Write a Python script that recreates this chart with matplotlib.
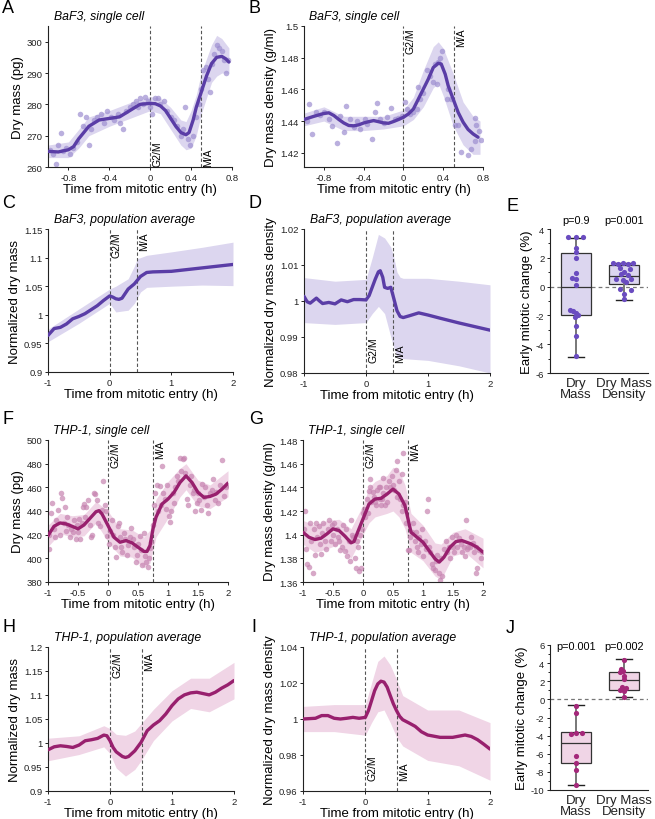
import matplotlib
matplotlib.use("Agg")
import matplotlib.pyplot as plt
from matplotlib.ticker import FuncFormatter, MultipleLocator

plt.rcParams["font.family"] = ["Liberation Sans", "DejaVu Sans"]

# ---- colours
BAF_LINE = "#5a3da6"
BAF_DOT = "#9d8ed0"
BAF_BAND = "#dcd6ef"
BAF_BOXDOT = "#6a4cc0"
THP_LINE = "#98206e"
THP_DOT = "#c683b0"
THP_BAND = "#f0d5e6"
THP_BOXDOT = "#a4287a"

# ---- A: BaF3 single cell, dry mass
a_t = [-1.0, -0.9, -0.8, -0.75, -0.7, -0.6, -0.5, -0.4, -0.3, -0.2, -0.1, 0.0, 0.05, 0.1, 0.15,
       0.2, 0.25, 0.3, 0.35, 0.38, 0.42, 0.45, 0.5, 0.55, 0.6, 0.65, 0.7, 0.74, 0.77]
a_mean = [265, 264.8, 265.5, 266.5, 269, 273, 275, 275.5, 276, 278, 280, 280.3, 280.2, 279.5, 278,
          275.5, 273, 271, 270.3, 271, 275, 279, 284, 289, 293, 295, 295.3, 294.5, 293.5]
a_bt = [-1, -0.8, -0.7, -0.6, -0.4, -0.2, 0, 0.1, 0.2, 0.3, 0.35, 0.4, 0.45, 0.5, 0.6, 0.65, 0.7, 0.77]
a_hi = [267, 268, 272, 276, 278, 280.5, 282.5, 282, 279, 275, 274.5, 278, 283, 290, 299, 302, 301, 298]
a_lo = [263, 263, 266, 270, 273, 275.5, 278, 277, 272, 267, 265.5, 266, 270, 277, 287, 289, 290, 290]
a_px = [-0.98, -0.95, -0.92, -0.9, -0.87, -0.85, -0.82, -0.78, -0.76, -0.72, -0.69, -0.66, -0.63, -0.6,
        -0.58, -0.55, -0.52, -0.48, -0.45, -0.42, -0.38, -0.35, -0.32, -0.3, -0.27, -0.24, -0.2, -0.17,
        -0.14, -0.12, -0.1, -0.07, -0.05, -0.02, 0.0, 0.02, 0.05, 0.08, 0.1, 0.13, 0.16, 0.2, 0.23, 0.26,
        0.3, 0.32, 0.34, 0.37, 0.39, 0.42, 0.45, 0.48, 0.5, 0.52, 0.55, 0.57, 0.58, 0.6, 0.62, 0.65,
        0.67, 0.7, 0.72, 0.74, 0.76]
a_py = [265.5, 264, 261, 267, 271, 265, 266, 264, 266, 268, 277, 273, 276, 267,
        272, 275, 276, 277, 274, 278, 276, 275, 277, 274, 272, 278, 279, 280,
        281, 279, 282, 280, 282.5, 281, 279, 277, 282, 282, 280, 281, 278, 276, 275, 273,
        270, 272, 279, 269, 267, 270, 276, 280, 285, 291, 292, 288, 284, 293, 296, 299,
        298, 297, 294, 290, 294]

# ---- B: BaF3 single cell, density
b_t = [-1, -0.9, -0.8, -0.75, -0.7, -0.65, -0.6, -0.55, -0.5, -0.45, -0.4, -0.35, -0.3, -0.25,
       -0.2, -0.15, -0.1, -0.05, 0, 0.05, 0.1, 0.15, 0.2, 0.25, 0.3, 0.35, 0.38, 0.42, 0.45, 0.5,
       0.55, 0.6, 0.65, 0.7, 0.75]
b_mean = [1.441, 1.443, 1.4448, 1.4452, 1.4435, 1.441, 1.4388, 1.4372, 1.4370, 1.4376, 1.4388,
          1.4396, 1.4403, 1.4396, 1.4388, 1.4386, 1.4397, 1.4410, 1.4424, 1.4445, 1.4476, 1.4539,
          1.4602, 1.4665, 1.4738, 1.4765, 1.4760, 1.4696, 1.4623, 1.4539, 1.4455, 1.4393, 1.4347,
          1.4319, 1.4298]
b_bt = [-1, -0.8, -0.6, -0.4, -0.2, 0, 0.1, 0.2, 0.3, 0.35, 0.4, 0.5, 0.6, 0.7, 0.77]
b_hi = [1.445, 1.449, 1.443, 1.443, 1.443, 1.447, 1.455, 1.472, 1.487, 1.490, 1.486, 1.470, 1.452, 1.443, 1.440]
b_lo = [1.437, 1.440, 1.434, 1.434, 1.435, 1.437, 1.441, 1.449, 1.461, 1.464, 1.456, 1.437, 1.425, 1.419, 1.419]
b_px = [-0.97, -0.95, -0.92, -0.88, -0.84, -0.8, -0.75, -0.72, -0.667, -0.633, -0.6, -0.573, -0.533,
        -0.5, -0.467, -0.433, -0.383, -0.367, -0.317, -0.283, -0.267, -0.233, -0.2, -0.167, -0.127,
        -0.083, -0.05, -0.017, 0.017, 0.033, 0.067, 0.1, 0.133, 0.15, 0.167, 0.2, 0.24, 0.267, 0.3,
        0.317, 0.333, 0.35, 0.367, 0.383, 0.433, 0.45, 0.483, 0.517, 0.55, 0.583, 0.65, 0.683, 0.717,
        0.717, 0.733, 0.76, 0.783]
b_py = [1.440, 1.451, 1.432, 1.446, 1.444, 1.446, 1.441, 1.437, 1.4263, 1.4435, 1.433, 1.4497, 1.4414,
        1.436, 1.4403, 1.435, 1.441, 1.438, 1.4284, 1.4455, 1.4512, 1.441, 1.4388, 1.4424, 1.4483,
        1.441, 1.4418, 1.443, 1.4518, 1.4476, 1.4445, 1.4455, 1.4476, 1.4613, 1.4539, 1.458, 1.4721,
        1.4686, 1.4648, 1.4763, 1.4633, 1.4774, 1.4795, 1.4843, 1.4539, 1.460, 1.4539, 1.4372, 1.4372,
        1.4204, 1.4188, 1.4225, 1.4277, 1.442, 1.4372, 1.434, 1.428]

# ---- C: BaF3 population, normalized dry mass
c_t = [-1, -0.9, -0.8, -0.7, -0.6, -0.5, -0.4, -0.3, -0.2, -0.1, 0, 0.05, 0.1, 0.15, 0.2, 0.3,
       0.4, 0.5, 0.6, 0.7, 1.0, 1.5, 2.0]
c_mean = [0.964, 0.976, 0.978, 0.984, 0.993, 0.997, 1.002, 1.009, 1.016, 1.025, 1.033, 1.031, 1.028,
          1.027, 1.029, 1.045, 1.054, 1.067, 1.074, 1.075, 1.076, 1.082, 1.088]
c_bt = [-1, -0.5, 0, 0.1, 0.3, 0.4, 0.45, 0.5, 0.6, 1.0, 1.5, 2.0]
c_hi = [0.975, 1.010, 1.045, 1.050, 1.063, 1.085, 1.098, 1.100, 1.104, 1.110, 1.118, 1.127]
c_lo = [0.953, 0.985, 1.020, 1.005, 1.008, 1.020, 1.030, 1.040, 1.048, 1.050, 1.052, 1.051]

# ---- D: BaF3 population, normalized density
d_t = [-1, -0.95, -0.9, -0.8, -0.75, -0.7, -0.6, -0.5, -0.4, -0.3, -0.2, -0.1, 0, 0.05, 0.1, 0.15,
       0.2, 0.23, 0.27, 0.3, 0.35, 0.4, 0.45, 0.5, 0.55, 0.6, 0.7, 0.85, 1.0, 1.2, 1.5, 1.8, 2.0]
d_mean = [1.0013, 0.9998, 0.9994, 1.0008, 1.0, 0.9993, 0.9996, 0.9992, 1.0003, 0.9998, 1.0004,
          1.0004, 1.0003, 1.0015, 1.0038, 1.0061, 1.0081, 1.0084, 1.0066, 1.0038, 1.0035, 1.0038,
          1.0006, 0.9973, 0.9957, 0.9954, 0.9959, 0.9967, 0.9961, 0.9952, 0.9939, 0.9927, 0.9919]
d_bt = [-1, -0.5, 0, 0.1, 0.2, 0.3, 0.4, 0.45, 0.5, 0.55, 0.6, 1.0, 1.5, 2.0]
d_hi = [1.0065, 1.0055, 1.0060, 1.0120, 1.0185, 1.0175, 1.0150, 1.0120, 1.0080, 1.0066, 1.0063,
        1.0063, 1.0055, 1.0045]
d_lo = [0.9940, 0.9935, 0.9940, 0.9965, 0.9985, 0.9965, 0.9900, 0.9870, 0.9845, 0.9842, 0.9840,
        0.9835, 0.9820, 0.9800]

# ---- E: BaF3 early mitotic change
e_labels = ["Dry\nMass", "Dry Mass\nDensity"]
e_dm_dx = [-0.16, 0, 0.15, 0, 0, 0, 0, -0.08, 0.01, 0, -0.13, -0.06, 0, 0.05, -0.02, 0.01, 0, 0]
e_dm_y = [3.42, 3.42, 3.42, 2.66, 2.38, 1.96, 0.92, 0.6, 0.53, 0.11, -1.6, -1.67, -1.83, -1.97,
          -2.08, -2.76, -3.45, -4.84]
e_dd_dx = [-0.23, -0.13, -0.02, 0.08, 0.19, -0.09, 0.12, 0.01, -0.16, -0.02, 0.15, 0.05, -0.09,
           0.15, 0.01, 0.0, -0.06, 0.08]
e_dd_y = [1.65, 1.6, 1.65, 1.6, 1.65, 1.27, 1.22, 1.03, 0.56, 0.44, 0.51, 0.3, -0.17, -0.24,
          -0.5, -0.86, 0.9, 0.8]
e_box = [dict(q1=-2.0, q3=2.35, med=-0.05, whislo=-4.9, whishi=3.4),
         dict(q1=0.2, q3=1.5, med=0.75, whislo=-0.9, whishi=1.65)]
e_p = ["p=0.9", "p=0.001"]

# ---- F: THP-1 single cell, dry mass
f_t = [-1, -0.9, -0.8, -0.7, -0.6, -0.5, -0.4, -0.3, -0.2, -0.15, -0.1, 0, 0.1, 0.2, 0.3, 0.4, 0.5,
       0.6, 0.65, 0.7, 0.75, 0.8, 0.9, 1.0, 1.1, 1.2, 1.3, 1.4, 1.5, 1.6, 1.7, 1.8, 1.9, 2.0]
f_mean = [419.2, 427.1, 429.9, 429.1, 427.1, 424.9, 428.2, 433.8, 439.4, 440.3, 437.5, 427.7, 417.8,
          413.6, 415.0, 413.1, 409.4, 405.8, 405.8, 410.8, 424.9, 434.7, 445.9, 450.1, 455.7, 464.1,
          469.7, 464.1, 455.7, 451.5, 452.3, 454.3, 458.5, 463.6]
f_bt = [-1, -0.8, -0.6, -0.4, -0.2, 0, 0.2, 0.4, 0.6, 0.7, 0.8, 1.0, 1.2, 1.3, 1.5, 1.7, 2.0]
f_hi = [428, 438, 436, 437, 448, 440, 425, 424, 418, 424, 450, 465, 476, 480, 466, 462, 474]
f_lo = [410, 421, 418, 419, 430, 414, 402, 401, 392, 396, 418, 434, 452, 458, 444, 442, 452]
f_px = [-0.98, -0.98, -0.95, -0.93, -0.9, -0.88, -0.86, -0.83, -0.8, -0.78, -0.76, -0.74, -0.72,
        -0.7, -0.68, -0.66, -0.63, -0.61, -0.58, -0.56, -0.54, -0.52, -0.5, -0.48, -0.46, -0.44,
        -0.42, -0.4, -0.38, -0.36, -0.33, -0.3, -0.28, -0.26, -0.23, -0.21, -0.18, -0.16, -0.13,
        -0.1, -0.08, -0.05, -0.03, -0.01, 0.01, 0.03, 0.06, 0.09, 0.12, 0.14, 0.16, 0.18, 0.2, 0.22,
        0.24, 0.27, 0.29, 0.31, 0.33, 0.36, 0.39, 0.41, 0.43, 0.46, 0.48, 0.5, 0.53, 0.55, 0.57, 0.6,
        0.62, 0.64, 0.66, 0.68, 0.7, 0.72, 0.75, 0.77, 0.79, 0.81, 0.83, 0.86, 0.88, 0.9, 0.92, 0.95,
        0.97, 0.99, 1.01, 1.03, 1.05, 1.08, 1.1, 1.12, 1.15, 1.17, 1.2, 1.22, 1.25, 1.27, 1.29, 1.31,
        1.34, 1.36, 1.39, 1.41, 1.43, 1.45, 1.48, 1.5, 1.52, 1.55, 1.57, 1.6, 1.62, 1.65, 1.67, 1.7,
        1.73, 1.75, 1.78, 1.8, 1.83, 1.86, 1.9, 1.93, 1.96, 1.98]
f_py = [408, 420, 438, 447, 425, 418, 432, 441, 420, 455, 451, 430, 443,
        423, 435, 428, 418, 425, 422, 432, 416, 428, 422, 433, 416, 430,
        443, 446, 435, 443, 449, 428, 418, 420, 455, 454, 449, 430, 427,
        441, 465, 445, 440, 419, 412, 423, 432, 420, 410, 401, 427, 430, 418, 410,
        405, 421, 416, 403, 411, 418, 426, 416, 410, 397, 403, 412, 419, 407, 394, 421,
        402, 397, 393, 400, 409, 414, 428, 445, 455, 462, 440, 461, 445, 478, 455, 450,
        442, 462, 436, 431, 440, 455, 447, 460, 470, 465, 485, 474, 484, 485, 472, 450,
        445, 462, 470, 455, 458, 440, 447, 455, 449, 441, 463, 452, 460, 445, 438, 455,
        458, 467, 449, 456, 447, 462, 483, 453, 460, 462]

# ---- G: THP-1 single cell, density
g_t = [-1, -0.9, -0.8, -0.7, -0.6, -0.5, -0.4, -0.3, -0.2, -0.15, -0.1, 0, 0.1, 0.2, 0.3, 0.4, 0.5,
       0.6, 0.7, 0.75, 0.8, 0.9, 1.0, 1.1, 1.2, 1.27, 1.35, 1.45, 1.55, 1.65, 1.8, 1.9, 2.0]
g_mean = [1.402, 1.3978, 1.3959, 1.397, 1.4007, 1.4049, 1.4035, 1.3987, 1.3931, 1.3942, 1.4007,
          1.4133, 1.4259, 1.4301, 1.4307, 1.4343, 1.4385, 1.4343, 1.4245, 1.4133, 1.4021, 1.3978,
          1.3936, 1.3866, 1.3796, 1.3768, 1.381, 1.3894, 1.3942, 1.395, 1.3922, 1.3894, 1.3852]
g_bt = [-1, -0.8, -0.6, -0.4, -0.2, 0, 0.1, 0.2, 0.4, 0.5, 0.6, 0.7, 0.8, 1.0, 1.2, 1.3, 1.5, 1.7, 2.0]
g_hi = [1.412, 1.408, 1.412, 1.413, 1.405, 1.425, 1.440, 1.445, 1.450, 1.457, 1.454, 1.442, 1.418,
        1.408, 1.393, 1.392, 1.402, 1.405, 1.397]
g_lo = [1.392, 1.385, 1.388, 1.392, 1.380, 1.400, 1.410, 1.415, 1.418, 1.420, 1.415, 1.405, 1.385,
        1.378, 1.365, 1.362, 1.382, 1.385, 1.372]
g_px = [-0.98, -0.97, -0.95, -0.93, -0.9, -0.88, -0.86, -0.84, -0.82, -0.8, -0.78, -0.76, -0.74,
        -0.72, -0.7, -0.68, -0.66, -0.63, -0.61, -0.58, -0.56, -0.54, -0.52, -0.5, -0.48, -0.46,
        -0.44, -0.42, -0.4, -0.38, -0.35, -0.33, -0.3, -0.28, -0.26, -0.24, -0.22, -0.2, -0.18,
        -0.16, -0.14, -0.12, -0.1, -0.08, -0.06, -0.05, -0.03, -0.01, 0.0, 0.02, 0.04, 0.06, 0.08,
        0.1, 0.12, 0.12, 0.14, 0.16, 0.18, 0.2, 0.22, 0.24, 0.26, 0.28, 0.29, 0.3, 0.32, 0.34, 0.34,
        0.36, 0.38, 0.4, 0.43, 0.45, 0.48, 0.5, 0.52, 0.55, 0.56, 0.57, 0.6, 0.62, 0.65, 0.65, 0.66,
        0.67, 0.7, 0.72, 0.75, 0.77, 0.79, 0.81, 0.83, 0.86, 0.88, 0.9, 0.92, 0.94, 0.96, 0.98, 1.0,
        1.03, 1.05, 1.07, 1.09, 1.1, 1.12, 1.15, 1.17, 1.2, 1.22, 1.24, 1.26, 1.28, 1.3, 1.32, 1.35,
        1.38, 1.4, 1.43, 1.45, 1.48, 1.5, 1.52, 1.55, 1.57, 1.6, 1.63, 1.65, 1.68, 1.7, 1.72, 1.73,
        1.75, 1.78, 1.8, 1.83, 1.85, 1.88, 1.89, 1.9, 1.93, 1.96, 1.98]
g_py = [1.405, 1.42, 1.388, 1.375, 1.373, 1.41, 1.395, 1.368, 1.405, 1.383, 1.41, 1.398, 1.407,
        1.392, 1.384, 1.401, 1.41, 1.395, 1.388, 1.405, 1.412, 1.395, 1.408, 1.4, 1.41, 1.392,
        1.405, 1.398, 1.395, 1.387, 1.39, 1.408, 1.386, 1.405, 1.382, 1.395, 1.378, 1.412, 1.4,
        1.398, 1.38, 1.372, 1.395, 1.39, 1.369, 1.4, 1.372, 1.405, 1.418, 1.422, 1.415, 1.43, 1.418,
        1.437, 1.44, 1.447, 1.428, 1.436, 1.432, 1.428, 1.425, 1.438, 1.44, 1.43, 1.44, 1.425, 1.43,
        1.435, 1.448, 1.425, 1.44, 1.428, 1.445, 1.44, 1.45, 1.442, 1.438, 1.455, 1.462, 1.432, 1.445,
        1.43, 1.42, 1.451, 1.469, 1.425, 1.428, 1.41, 1.387, 1.387, 1.398, 1.402, 1.41, 1.395, 1.402,
        1.39, 1.385, 1.398, 1.392, 1.405, 1.382, 1.395, 1.388, 1.42, 1.43, 1.39, 1.385, 1.375, 1.372,
        1.37, 1.378, 1.383, 1.368, 1.362, 1.38, 1.365, 1.388, 1.395, 1.385, 1.39, 1.38, 1.398, 1.39,
        1.385, 1.4, 1.39, 1.397, 1.392, 1.385, 1.39, 1.382, 1.412, 1.388, 1.39, 1.39, 1.398, 1.393,
        1.385, 1.39, 1.368, 1.372, 1.387, 1.38, 1.385]

# ---- H: THP-1 population, normalized dry mass
h_t = [-1, -0.9, -0.8, -0.7, -0.6, -0.5, -0.4, -0.3, -0.2, -0.1, -0.05, 0, 0.05, 0.1, 0.2, 0.25,
       0.3, 0.4, 0.5, 0.6, 0.7, 0.8, 0.9, 1.0, 1.1, 1.2, 1.3, 1.4, 1.5, 1.6, 1.7, 1.8, 1.9, 2.0]
h_mean = [0.9858, 0.9921, 0.9942, 0.9928, 0.9907, 0.9956, 1.0047, 1.0068, 1.0096, 1.0165, 1.0151,
          1.0047, 0.9907, 0.9816, 0.9719, 0.9698, 0.9719, 0.9837, 1.0012, 1.0256, 1.0374, 1.0465,
          1.0605, 1.0779, 1.0919, 1.1002, 1.1044, 1.1058, 1.1030, 1.1002, 1.1058, 1.1142, 1.1212,
          1.1302]
h_bt = [-1, -0.5, -0.1, 0, 0.1, 0.25, 0.4, 0.5, 0.7, 1.0, 1.3, 1.6, 2.0]
h_hi = [1.010, 1.015, 1.036, 1.030, 1.018, 1.016, 1.025, 1.040, 1.070, 1.109, 1.135, 1.135, 1.168]
h_lo = [0.963, 0.976, 0.992, 0.978, 0.948, 0.931, 0.945, 0.963, 1.005, 1.046, 1.072, 1.065, 1.092]

# ---- I: THP-1 population, normalized density
i_t = [-1, -0.8, -0.7, -0.6, -0.5, -0.4, -0.3, -0.2, -0.1, 0, 0.05, 0.1, 0.15, 0.2, 0.25, 0.3, 0.35,
       0.4, 0.45, 0.5, 0.55, 0.6, 0.7, 0.8, 0.9, 1.0, 1.2, 1.4, 1.6, 1.7, 1.8, 1.9, 2.0]
i_mean = [1.0, 1.0004, 1.0019, 1.0019, 1.0004, 1.0, 1.0004, 1.0009, 1.0004, 1.0009, 1.0047, 1.0102,
          1.0158, 1.0195, 1.021, 1.0205, 1.0177, 1.013, 1.0084, 1.0047, 1.0015, 0.9996, 0.9978,
          0.9959, 0.9929, 0.9911, 0.9898, 0.9898, 0.9911, 0.9903, 0.9885, 0.986, 0.9833]
i_bt = [-1, -0.5, 0, 0.1, 0.2, 0.3, 0.4, 0.5, 0.6, 1.0, 1.5, 2.0]
i_hi = [1.007, 1.008, 1.008, 1.020, 1.032, 1.035, 1.030, 1.022, 1.013, 1.005, 1.005, 0.998]
i_lo = [0.993, 0.993, 0.991, 0.998, 1.004, 1.005, 0.998, 0.990, 0.985, 0.977, 0.974, 0.966]

# ---- J: THP-1 early mitotic change
j_dm_dx = [0, 0, -0.11, 0.01, 0.12, 0, 0, 0, 0]
j_dm_y = [-0.7, -1.52, -3.84, -3.75, -3.66, -6.24, -6.98, -7.79, -9.48]
j_dd_dx = [0, -0.06, -0.02, -0.08, 0.01, 0.0, -0.05, 0.04, -0.09, 0.0, 0.0]
j_dd_y = [4.38, 3.35, 3.16, 2.98, 2.53, 2.24, 1.32, 1.24, 1.02, 0.95, 0.29]
j_box = [dict(q1=-7.05, q3=-3.6, med=-4.84, whislo=-9.48, whishi=-0.65),
         dict(q1=1.02, q3=3.05, med=2.15, whislo=0.3, whishi=4.45)]
j_p = ["p=0.001", "p=0.002"]

W, H = 655, 820
fig = plt.figure(figsize=(W / 100, H / 100), dpi=100)
fmt = FuncFormatter(lambda v, p: f"{v:g}")


def make_ax(l, r, t, b):
    ax = fig.add_axes([l / W, 1 - b / H, (r - l) / W, (b - t) / H])
    for s in ("top", "right"):
        ax.spines[s].set_visible(False)
    for s in ("left", "bottom"):
        ax.spines[s].set_linewidth(0.8)
        ax.spines[s].set_color("#222222")
    ax.tick_params(labelsize=6.8, length=2.5, width=0.7, pad=1.5, colors="#222222")
    ax.xaxis.set_major_formatter(fmt)
    ax.yaxis.set_major_formatter(fmt)
    return ax


def phase(ax, x, text, top=True, off=2):
    ax.axvline(x, color="#555555", lw=0.8, ls=(0, (3, 2)), zorder=1)
    if top:
        ax.annotate(text, xy=(x, 1), xycoords=("data", "axes fraction"), xytext=(1.5, -off),
                    textcoords="offset points", rotation=90, ha="left", va="top", fontsize=7.5)
    else:
        ax.annotate(text, xy=(x, 0), xycoords=("data", "axes fraction"), xytext=(1.5, off),
                    textcoords="offset points", rotation=90, ha="left", va="bottom", fontsize=7.5)


def trace_panel(ax, t, mean, bt, lo, hi, band, line, title, ylabel, xlim, ylim, xticks, yticks,
                px=None, py=None, dot=None):
    ax.fill_between(bt, lo, hi, color=band, lw=0, zorder=0)
    if px is not None:
        ax.scatter(px, py, s=16, color=dot, alpha=0.7, lw=0, zorder=2)
    ax.plot(t, mean, color=line, lw=2.4, zorder=3, solid_capstyle="round")
    ax.set_xlim(*xlim)
    ax.set_ylim(*ylim)
    ax.set_xticks(xticks)
    ax.set_yticks(yticks)
    ax.set_xlabel("Time from mitotic entry (h)", fontsize=9.5, labelpad=1)
    ax.set_ylabel(ylabel, fontsize=9.5, labelpad=2)
    ax.text(0.03, 1.03, title, transform=ax.transAxes, fontsize=8.8, style="italic",
            ha="left", va="bottom")


def box_panel(ax, stats, dm_dx, dm_y, dd_dx, dd_y, dotc, band, ylim, yticks, pvals, ptext_y):
    ax.axhline(0, color="#777777", lw=0.9, ls=(0, (3, 2.5)), zorder=0)
    st = []
    for s, lab in zip(stats, ["a", "b"]):
        d = dict(s)
        d["label"] = lab
        st.append(d)
    ax.bxp(st, positions=[1, 2], widths=0.64, showfliers=False, patch_artist=True,
           boxprops=dict(facecolor=band, edgecolor="#333333", lw=0.9),
           medianprops=dict(color="#333333", lw=0.9),
           whiskerprops=dict(color="#777777", lw=1.4),
           capprops=dict(color="#222222", lw=1.0), capwidths=0.32)
    ax.scatter([1 + d for d in dm_dx], dm_y, s=14, color=dotc, lw=0, zorder=4)
    ax.scatter([2 + d for d in dd_dx], dd_y, s=14, color=dotc, lw=0, zorder=4)
    ax.set_xlim(0.46, 2.5)
    ax.set_ylim(*ylim)
    ax.set_yticks(yticks)
    ax.yaxis.set_minor_locator(MultipleLocator(1))
    ax.tick_params(axis="y", which="minor", length=1.5, width=0.6)
    ax.set_xticks([1, 2])
    ax.set_xticklabels(e_labels, fontsize=9.5, linespacing=0.85)
    ax.tick_params(axis="x", length=0, pad=3)
    ax.set_ylabel("Early mitotic change (%)", fontsize=9.5, labelpad=2)
    for xp, p in zip([1, 2], pvals):
        ax.text(xp, ptext_y, p, ha="center", va="bottom", fontsize=7.8, clip_on=False)


# A
ax = make_ax(48, 232, 27, 168)
trace_panel(ax, a_t, a_mean, a_bt, a_lo, a_hi, BAF_BAND, BAF_LINE, "BaF3, single cell",
            "Dry mass (pg)", (-1, 0.8), (260, 305), [-0.8, -0.4, 0, 0.4, 0.8],
            [260, 270, 280, 290, 300], a_px, a_py, BAF_DOT)
phase(ax, 0, "G2/M", top=False, off=1)
phase(ax, 0.5, "M/A", top=False, off=1)

# B
ax = make_ax(304, 483, 27, 168)
trace_panel(ax, b_t, b_mean, b_bt, b_lo, b_hi, BAF_BAND, BAF_LINE, "BaF3, single cell",
            "Dry mass density (g/ml)", (-1, 0.8), (1.411, 1.5), [-0.8, -0.4, 0, 0.4, 0.8],
            [1.42, 1.44, 1.46, 1.48, 1.5], b_px, b_py, BAF_DOT)
phase(ax, 0, "G2/M", top=True, off=1)
phase(ax, 0.51, "M/A", top=True, off=1)

# C
ax = make_ax(48, 233, 230, 373)
trace_panel(ax, c_t, c_mean, c_bt, c_lo, c_hi, BAF_BAND, BAF_LINE, "BaF3, population average",
            "Normalized dry mass", (-1, 2), (0.9, 1.15), [-1, 0, 1, 2],
            [0.9, 0.95, 1.0, 1.05, 1.1, 1.15])
phase(ax, 0, "G2/M", top=True, off=2)
phase(ax, 0.44, "M/A", top=True, off=2)

# D
ax = make_ax(304, 490, 230, 374)
trace_panel(ax, d_t, d_mean, d_bt, d_lo, d_hi, BAF_BAND, BAF_LINE, "BaF3, population average",
            "Normalized dry mass density", (-1, 2), (0.98, 1.02), [-1, 0, 1, 2],
            [0.98, 0.99, 1.0, 1.01, 1.02])
phase(ax, 0, "G2/M", top=False, off=8)
phase(ax, 0.43, "M/A", top=False, off=8)

# E
ax = make_ax(550, 648, 230, 374)
box_panel(ax, e_box, e_dm_dx, e_dm_y, e_dd_dx, e_dd_y, BAF_BOXDOT, BAF_BAND, (-6, 4),
          [-6, -4, -2, 0, 2, 4], e_p, 4.25)

# F
ax = make_ax(48, 228, 441, 583)
trace_panel(ax, f_t, f_mean, f_bt, f_lo, f_hi, THP_BAND, THP_LINE, "THP-1, single cell",
            "Dry mass (pg)", (-1, 2), (380, 500), [-1, -0.5, 0, 0.5, 1, 1.5, 2],
            [380, 400, 420, 440, 460, 480, 500], f_px, f_py, THP_DOT)
phase(ax, 0, "G2/M", top=True, off=1)
phase(ax, 0.75, "M/A", top=True, off=0)

# G
ax = make_ax(303, 483, 441, 583)
trace_panel(ax, g_t, g_mean, g_bt, g_lo, g_hi, THP_BAND, THP_LINE, "THP-1, single cell",
            "Dry mass density (g/ml)", (-1, 2), (1.36, 1.48), [-1, -0.5, 0, 0.5, 1, 1.5, 2],
            [1.36, 1.38, 1.40, 1.42, 1.44, 1.46, 1.48], g_px, g_py, THP_DOT)
phase(ax, 0, "G2/M", top=True, off=1)
phase(ax, 0.75, "M/A", top=True, off=1)

# H
ax = make_ax(48, 234, 648, 792)
trace_panel(ax, h_t, h_mean, h_bt, h_lo, h_hi, THP_BAND, THP_LINE, "THP-1, population average",
            "Normalized dry mass", (-1, 2), (0.9, 1.2), [-1, 0, 1, 2],
            [0.9, 0.95, 1.0, 1.05, 1.1, 1.15, 1.2])
phase(ax, 0, "G2/M", top=True, off=3)
phase(ax, 0.52, "M/A", top=True, off=3)

# I
ax = make_ax(303, 490, 648, 792)
trace_panel(ax, i_t, i_mean, i_bt, i_lo, i_hi, THP_BAND, THP_LINE, "THP-1, population average",
            "Normalized dry mass density", (-1, 2), (0.96, 1.04), [-1, 0, 1, 2],
            [0.96, 0.98, 1.0, 1.02, 1.04])
phase(ax, 0, "G2/M", top=False, off=8)
phase(ax, 0.51, "M/A", top=False, off=8)

# J
ax = make_ax(550, 648, 646, 791)
box_panel(ax, j_box, j_dm_dx, j_dm_y, j_dd_dx, j_dd_y, THP_BOXDOT, THP_BAND, (-10, 6),
          [-10, -8, -6, -4, -2, 0, 2, 4, 6], j_p, 5.3)

# panel letters
letters = [("A", 2, 0), ("B", 249, 0), ("C", 2, 195), ("D", 249, 195), ("E", 506, 198),
           ("F", 2, 411), ("G", 249, 411), ("H", 2, 619), ("I", 251, 619), ("J", 506, 620)]
for lt, x, y in letters:
    fig.text(x / W, 1 - y / H, lt, fontsize=13, ha="left", va="top")

fig.savefig("out.png", dpi=100)
